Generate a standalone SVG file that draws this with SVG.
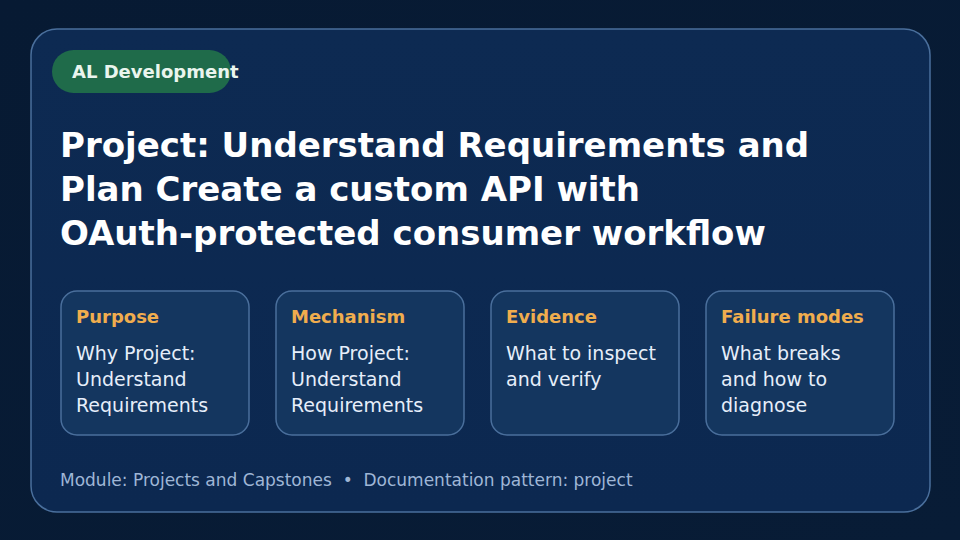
<svg xmlns="http://www.w3.org/2000/svg" width="960" height="540" viewBox="0 0 960 540">
<style>
text{font-family:"DejaVu Sans",sans-serif}
.card{fill:#14365f;stroke:#4a6f9c;stroke-width:1.5}
.h{fill:#f0ad4e;font-size:18px;font-weight:bold}
.b{fill:#e6eefa;font-size:19px}
.t{fill:#ffffff;font-size:34px;font-weight:bold}
</style>
<defs>
<linearGradient id="bg" x1="0" y1="0" x2="1" y2="1"><stop offset="0" stop-color="#071a33"/><stop offset="1" stop-color="#081c36"/></linearGradient>
<linearGradient id="pn" x1="0" y1="0" x2="0" y2="1"><stop offset="0" stop-color="#0d2a52"/><stop offset="1" stop-color="#0c2850"/></linearGradient>
</defs>
<rect width="960" height="540" fill="url(#bg)"/>
<rect x="31" y="29" width="899" height="483" rx="26" fill="url(#pn)" stroke="#4a6f9c" stroke-width="1.5"/>
<g id="tag">
<rect x="52" y="50" width="179" height="43" rx="21.5" fill="#1f6b4a"/>
<text x="72" y="78" fill="#eaf5ee" font-size="18" font-weight="bold">AL Development</text>
</g>
<g id="title">
<text class="t" x="60" y="157">Project: Understand Requirements and</text>
<text class="t" x="60" y="201">Plan Create a custom API with</text>
<text class="t" x="60" y="245">OAuth-protected consumer workflow</text>
</g>
<g id="purpose">
<rect class="card" x="61" y="291" width="188" height="144" rx="16"/>
<text class="h" x="76" y="323">Purpose</text>
<text class="b" x="76" y="360">Why Project:</text>
<text class="b" x="76" y="386">Understand</text>
<text class="b" x="76" y="412">Requirements</text>
</g>
<g id="mechanism">
<rect class="card" x="276" y="291" width="188" height="144" rx="16"/>
<text class="h" x="291" y="323">Mechanism</text>
<text class="b" x="291" y="360">How Project:</text>
<text class="b" x="291" y="386">Understand</text>
<text class="b" x="291" y="412">Requirements</text>
</g>
<g id="evidence">
<rect class="card" x="491" y="291" width="188" height="144" rx="16"/>
<text class="h" x="506" y="323">Evidence</text>
<text class="b" x="506" y="360">What to inspect</text>
<text class="b" x="506" y="386">and verify</text>
</g>
<g id="failure">
<rect class="card" x="706" y="291" width="188" height="144" rx="16"/>
<text class="h" x="721" y="323">Failure modes</text>
<text class="b" x="721" y="360">What breaks</text>
<text class="b" x="721" y="386">and how to</text>
<text class="b" x="721" y="412">diagnose</text>
</g>
<g id="connectors"/>
<text x="60" y="486" fill="#9fb6d6" font-size="17" xml:space="preserve">Module: Projects and Capstones  •  Documentation pattern: project</text>
</svg>
